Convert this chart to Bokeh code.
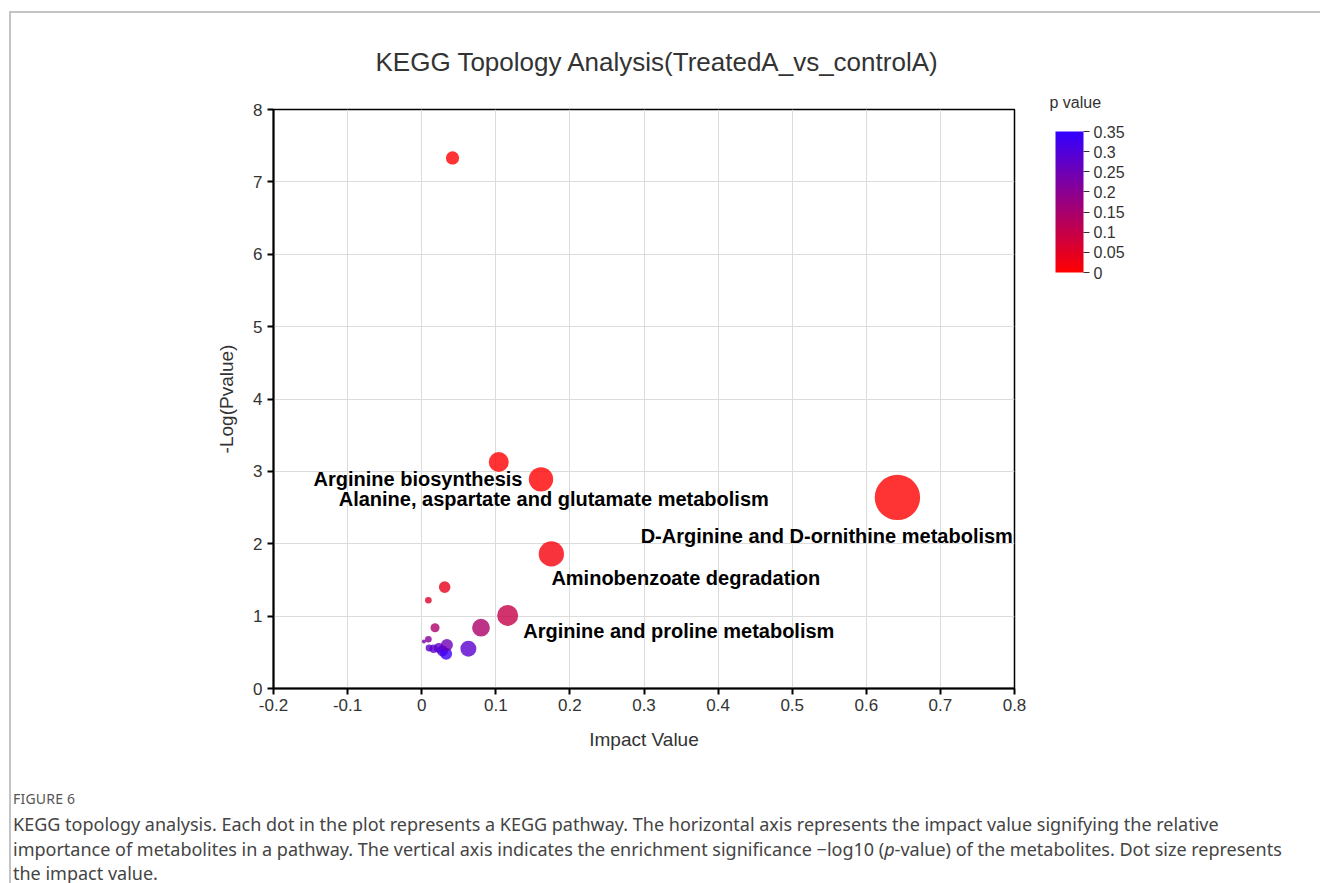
import numpy as np
from bokeh.plotting import figure
from bokeh.models import (ColumnDataSource, LinearColorMapper, ColorBar, FixedTicker,
                          CustomJSTickFormatter, Div, Range1d, Title)
from bokeh.layouts import column
from bokeh.transform import transform
from bokeh.embed import file_html
from bokeh.resources import INLINE
from bokeh.core.properties import value

# ---------------- data ----------------
impact = [0.642, 0.175, 0.161, 0.104, 0.116, 0.080, 0.063, 0.0416, 0.031, 0.018,
          0.009, 0.003, 0.009, 0.010, 0.016, 0.023, 0.028, 0.033, 0.034]
neg_log_p = [2.64, 1.86, 2.89, 3.13, 1.01, 0.84, 0.55, 7.33, 1.40, 0.84,
             1.22, 0.65, 0.68, 0.56, 0.55, 0.56, 0.52, 0.48, 0.60]

label_text = ["Arginine biosynthesis",
              "Alanine, aspartate and glutamate metabolism",
              "D-Arginine and D-ornithine metabolism",
              "Aminobenzoate degradation",
              "Arginine and proline metabolism"]
label_x = [-0.146, -0.112, 0.2955, 0.175, 0.137]
label_y = [2.89, 2.62, 2.11, 1.52, 0.79]

x_ticks = [-0.2, -0.1, 0, 0.1, 0.2, 0.3, 0.4, 0.5, 0.6, 0.7, 0.8]
y_ticks = [0, 1, 2, 3, 4, 5, 6, 7, 8]
cbar_ticks = [0, 0.05, 0.1, 0.15, 0.2, 0.25, 0.3, 0.35]

title_text = "KEGG Topology Analysis(TreatedA_vs_controlA)"
cbar_title = "p value"
caption_head = "FIGURE 6"
caption_lines = [
    "KEGG topology analysis. Each dot in the plot represents a KEGG pathway. "
    "The horizontal axis represents the impact value signifying the relative",
    "importance of metabolites in a pathway. The vertical axis indicates the "
    "enrichment significance \u2212log10 (<i>p</i>-value) of the metabolites. "
    "Dot size represents",
    "the impact value.",
]

# ---------------- derived ----------------
imp = np.array(impact)
nlp = np.array(neg_log_p)
pval = 10 ** (-nlp)
dot_size = 55.4 * imp ** 0.45

src = ColumnDataSource(dict(x=imp, y=nlp, p=pval, s=dot_size))
lab_src = ColumnDataSource(dict(x=label_x, y=label_y, t=label_text))

# red -> blue palette
lo = np.array([255, 0, 0])
hi = np.array([51, 0, 255])
palette = ["#%02x%02x%02x" % tuple((lo + (hi - lo) * f).round().astype(int))
           for f in np.linspace(0, 1, 256)]
mapper = LinearColorMapper(palette=palette, low=0, high=0.35)

FONT = "Liberation Sans"
fmt = CustomJSTickFormatter(code="return String(Math.round(tick*100)/100);")

p = figure(width=1309, height=765, output_backend="svg", toolbar_location=None,
           x_range=Range1d(-0.2, 0.8), y_range=Range1d(0, 8),
           min_border_left=262, min_border_right=306, min_border_top=96,
           min_border_bottom=90)

# colour-bar heading: a small title just above the frame, shifted to the bar
p.add_layout(Title(text=cbar_title, align="left", offset=776, standoff=-2,
                   text_font=FONT, text_font_size="16px",
                   text_font_style="normal", text_color="#333333"), "above")

p.title.text = title_text
p.title.align = "left"
p.title.offset = 102
p.title.text_font = FONT
p.title.text_font_size = "26px"
p.title.text_font_style = "normal"
p.title.text_color = "#333333"
p.title.standoff = 32

p.outline_line_color = "black"
p.outline_line_width = 1.5

p.xgrid.ticker = FixedTicker(ticks=x_ticks)
p.ygrid.ticker = FixedTicker(ticks=y_ticks)
p.xgrid.grid_line_color = "#dcdcdc"
p.ygrid.grid_line_color = "#dcdcdc"

for ax, ticks in ((p.xaxis[0], x_ticks), (p.yaxis[0], y_ticks)):
    ax.ticker = FixedTicker(ticks=ticks)
    ax.formatter = fmt
    ax.minor_tick_line_color = None
    ax.major_tick_in = 0
    ax.major_tick_out = 6
    ax.axis_line_width = 2
    ax.major_tick_line_width = 2
    ax.axis_line_color = "black"
    ax.major_tick_line_color = "black"
    ax.major_label_text_font = FONT
    ax.major_label_text_font_size = "17px"
    ax.major_label_text_color = "#333333"
    ax.axis_label_text_font = FONT
    ax.axis_label_text_font_size = "19px"
    ax.axis_label_text_font_style = "normal"
    ax.axis_label_text_color = "#333333"

p.xaxis.axis_label = "Impact Value"
p.yaxis.axis_label = "-Log(Pvalue)"
p.xaxis.major_label_standoff = 4
p.yaxis.major_label_standoff = 5
p.xaxis.axis_label_standoff = 15
p.yaxis.axis_label_standoff = 13

p.scatter("x", "y", size="s", source=src,
          fill_color=transform("p", mapper), fill_alpha=0.8, line_color=None)

p.text("x", "y", text="t", source=lab_src, text_font=value(FONT),
       text_font_size="20px", text_font_style="bold", text_color="black",
       text_baseline="middle", text_align="left")

cbar = ColorBar(color_mapper=mapper, ticker=FixedTicker(ticks=cbar_ticks),
                formatter=fmt, width=28, height=141, title=None,
                major_label_text_font=FONT, major_label_text_font_size="16px",
                major_label_text_color="#333333",
                major_tick_in=0, major_tick_out=6, major_tick_line_color="#333333",
                bar_line_color=None, border_line_color=None,
                background_fill_color=None, background_fill_alpha=0,
                padding=0, label_standoff=4,
                location=(782, 416))
p.add_layout(cbar, "center")

cap = Div(text=(
    '<div style="font-family:\'Noto Sans\';font-size:14px;color:#555;'
    'letter-spacing:0.2px;margin-bottom:3px;">' + caption_head + '</div>'
    '<div style="font-family:\'Noto Sans\';font-size:18px;line-height:24.5px;'
    'color:#444;white-space:nowrap;">' + "<br>".join(caption_lines) + '</div>'),
    width=1300, margin=(11, 0, 0, 2))

layout = column(p, cap, margin=(11, 0, 0, 9),
                styles={"border-top": "2px solid #c4c4c4",
                        "border-left": "2px solid #c4c4c4"})

open("out.html", "w").write(file_html(layout, INLINE))
